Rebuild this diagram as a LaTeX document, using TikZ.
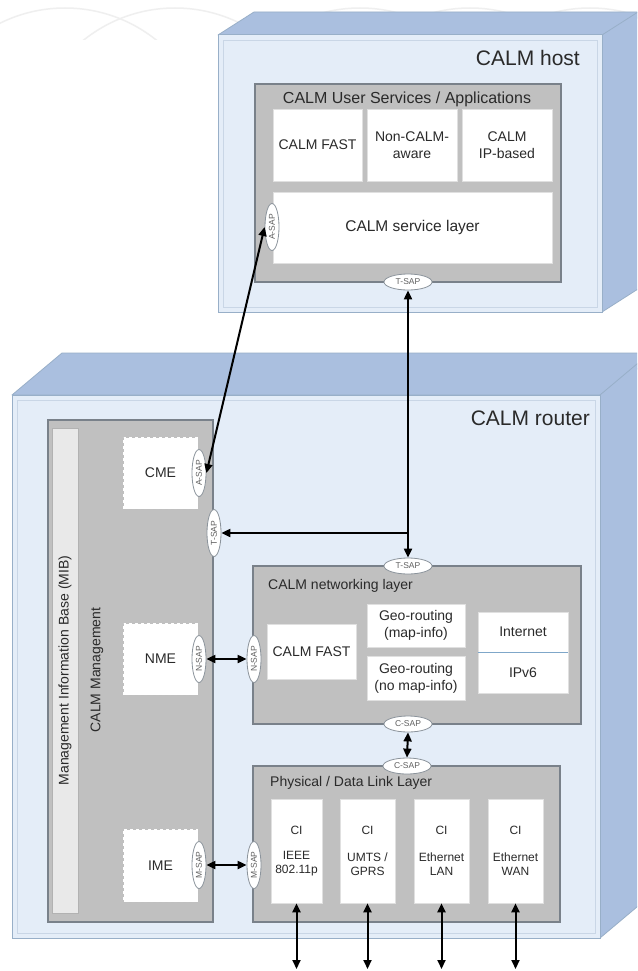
\documentclass[tikz,border=0pt]{standalone}
\usepackage{fontspec}
\setmainfont{Liberation Sans}
\usetikzlibrary{arrows.meta,shapes.geometric}
\newcommand{\fsz}[2]{\fontsize{#1}{#2}\selectfont}
\definecolor{frontc}{HTML}{E4EDF8}
\definecolor{frontb}{HTML}{98AFC8}
\definecolor{innerb}{HTML}{C9D6E6}
\definecolor{sidec}{HTML}{AABFDF}
\definecolor{grayc}{HTML}{C0C0C0}
\definecolor{grayb}{HTML}{79818A}
\definecolor{txt}{HTML}{2A2A2A}
\definecolor{mibc}{HTML}{E9E9E9}
\definecolor{sapb}{HTML}{8C949C}
\definecolor{divc}{HTML}{7FA7C9}
\definecolor{wmark}{HTML}{EFEFEF}
\tikzset{
  face/.style={fill=frontc, draw=frontb, line width=1pt},
  sideface/.style={fill=sidec, draw=frontb, line width=0.8pt, line join=round},
  graybox/.style={rectangle, fill=grayc, draw=grayb, line width=1.5pt, inner sep=0pt},
  wbox/.style={rectangle, fill=white, draw=black!12, line width=0.6pt, inner sep=0pt, align=center, text=txt, font=\fsz{14}{17}},
  mebox/.style={wbox, dashed, draw=black!25},
  sapv/.style={ellipse, fill=white, draw=sapb, line width=0.8pt, minimum width=14pt, minimum height=47pt, inner sep=0pt},
  saph/.style={ellipse, fill=white, draw=sapb, line width=0.8pt, minimum width=48pt, minimum height=16pt, inner sep=0pt, text=txt!75, font=\fsz{8.5}{9}},
  saplbl/.style={inner sep=0pt, text=txt!75, font=\fsz{8.5}{9}, rotate=90},
  lbl/.style={text=txt, inner sep=0pt},
  conn/.style={line width=2pt, draw=black, {Triangle[length=9pt,width=8pt]}-{Triangle[length=9pt,width=8pt]}},
  conn1/.style={line width=2pt, draw=black, -{Triangle[length=9pt,width=8pt]}},
}
\begin{document}
\begin{tikzpicture}[x=1pt,y=-1pt]
\useasboundingbox (0,0) rectangle (637,971);
\clip (0,0) rectangle (637,971);
\fill[white] (0,0) rectangle (637,971);

% faint watermark arcs at the top
\begin{scope}
  \clip (0,0) rectangle (637,40);
  \foreach \cx in {65,175,360,470,590}{
    \draw[wmark, line width=1.5pt] (\cx,154) circle[radius=146];
  }
\end{scope}

% ---------------- CALM host ----------------
\draw[sideface] (218,35) -- (254,12) -- (650,12) -- (602,35) -- cycle;
\draw[sideface] (602,35) -- (638,12) -- (638,289) -- (602,312) -- cycle;
\draw[face] (218,35) rectangle (602,312);
\draw[innerb, line width=0.6pt] (223,40) rectangle (597,307);
\node[lbl, font=\fsz{21}{25}, anchor=east] (hostt) at (580,58) {CALM host};

\node[graybox, minimum width=306pt, minimum height=198pt] (usa) at (408,183) {};
\node[lbl, font=\fsz{16}{19}] (usat) at (407,99) {CALM User Services / Applications};
\node[wbox, minimum width=89pt, minimum height=72pt] (hfast) at (317.5,145) {CALM FAST};
\node[wbox, minimum width=90pt, minimum height=72pt] (hnon) at (412,145) {Non-CALM-\\aware};
\node[wbox, minimum width=90pt, minimum height=72pt] (hip) at (507,145) {CALM\\IP-based};
\node[wbox, minimum width=279pt, minimum height=71pt, font=\fsz{15.5}{18}] (hsl) at (412.5,227.5) {CALM service layer};
\node[sapv] (hasap) at (272,227) {};
\node[saplbl] (hasapl) at (hasap) {A-SAP};
\node[saph] (htsap) at (408,282) {T-SAP};

% ---------------- CALM router ----------------
\draw[sideface] (12,395) -- (62,353) -- (660,353) -- (600,395) -- cycle;
\draw[sideface] (600,395) -- (650,353) -- (650,896) -- (600,938) -- cycle;
\draw[face] (12,395) rectangle (600,938);
\draw[innerb, line width=0.6pt] (17,400) rectangle (595,933);
\node[lbl, font=\fsz{21}{25}, anchor=east] (routert) at (590,418) {CALM router};

% management
\node[graybox, minimum width=165pt, minimum height=502pt] (mgmt) at (130.5,671) {};
\node[rectangle, fill=mibc, draw=black!30, line width=0.6pt, minimum width=26pt, minimum height=485pt, inner sep=0pt] (mib) at (65,670.5) {};
\node[lbl, font=\fsz{14}{17}, rotate=90] (mibt) at (mib) {Management Information Base (MIB)};
\node[lbl, font=\fsz{14}{17}, rotate=90] (mgmtt) at (97,670) {CALM Management};
\node[mebox, minimum width=75pt, minimum height=72pt] (cme) at (160.5,473) {CME};
\node[mebox, minimum width=75pt, minimum height=72pt] (nme) at (160.5,659) {NME};
\node[mebox, minimum width=75pt, minimum height=73pt] (ime) at (160.5,865.5) {IME};
\node[sapv] (masap) at (199,473) {};
\node[saplbl] (masapl) at (masap) {A-SAP};
\node[sapv] (mtsap) at (214,533) {};
\node[saplbl] (mtsapl) at (mtsap) {T-SAP};
\node[sapv] (mnsap) at (199,659) {};
\node[saplbl] (mnsapl) at (mnsap) {N-SAP};
\node[sapv] (mmsap) at (199,865) {};
\node[saplbl] (mmsapl) at (mmsap) {M-SAP};

% networking layer
\node[graybox, minimum width=328pt, minimum height=158pt] (net) at (417,645) {};
\node[lbl, font=\fsz{14}{17}, anchor=west] (nett) at (268,586) {CALM networking layer};
\node[wbox, minimum width=89pt, minimum height=55pt] (nfast) at (311.5,651.5) {CALM FAST};
\node[wbox, minimum width=98pt, minimum height=43pt] (geo1) at (416,625.5) {Geo-routing\\(map-info)};
\node[wbox, minimum width=98pt, minimum height=44pt] (geo2) at (416,678) {Geo-routing\\(no map-info)};
\node[wbox, minimum width=90pt, minimum height=40pt] (inet) at (523,632) {Internet};
\node[wbox, minimum width=90pt, minimum height=41pt] (ipv6) at (523,672.5) {IPv6};
\draw[divc, line width=1pt] (inet.south west) -- (inet.south east);
\node[saph] (ntsap) at (408,566) {T-SAP};
\node[saph] (ncsap) at (408,724) {C-SAP};
\node[sapv] (nnsap) at (254,659) {};
\node[saplbl] (nnsapl) at (nnsap) {N-SAP};

% physical / data link layer
\node[graybox, minimum width=307pt, minimum height=156pt] (phy) at (406.5,844) {};
\node[lbl, font=\fsz{14}{17}, anchor=west] (phyt) at (270,783) {Physical / Data Link Layer};
\node[wbox, minimum width=51pt, minimum height=104pt] (ci1) at (296.5,851) {};
\node[wbox, minimum width=55pt, minimum height=104pt] (ci2) at (367.5,851) {};
\node[wbox, minimum width=55pt, minimum height=104pt] (ci3) at (441.5,851) {};
\node[wbox, minimum width=55pt, minimum height=104pt] (ci4) at (515.5,851) {};
\foreach \n/\x/\t in {1/296.5/{IEEE\\802.11p}, 2/367.5/{UMTS /\\GPRS}, 3/441.5/{Ethernet\\LAN}, 4/515.5/{Ethernet\\WAN}}{
  \node[lbl, font=\fsz{12}{14}] (ci\n a) at (\x,830) {CI};
  \node[lbl, font=\fsz{12}{14}, align=center] (ci\n b) at (\x,864) {\t};
}
\node[saph] (pcsap) at (407,766) {C-SAP};
\node[sapv] (pmsap) at (254,865) {};
\node[saplbl] (pmsapl) at (pmsap) {M-SAP};

% ---------------- connectors ----------------
\coordinate (bot) at (0,969);
\draw[conn] (hasap.west) -- (masap.east);
\draw[conn] (htsap.south) -- (ntsap.north);
\coordinate (br) at (htsap.south |- mtsap.east);
\draw[conn1] (br) -- (mtsap.east);
\draw[conn] (mnsap.east) -- (nnsap.west);
\draw[conn] (mmsap.east) -- (pmsap.west);
\draw[conn] (ncsap.south) -- (pcsap.north);
\foreach \n in {1,2,3,4}{
  \draw[conn] (ci\n.south) -- (ci\n.south |- bot);
}
\end{tikzpicture}
\end{document}
